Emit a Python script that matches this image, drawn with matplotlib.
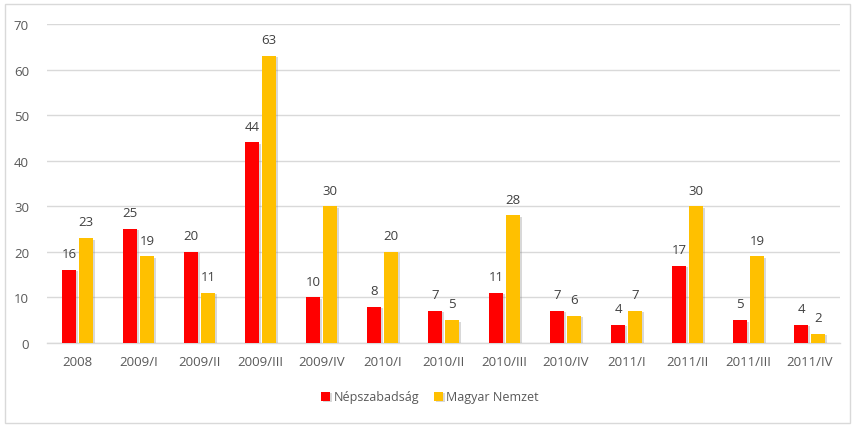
import matplotlib
matplotlib.use("Agg")
import matplotlib.pyplot as plt
import matplotlib.patheffects as pe
from matplotlib.patches import Rectangle
import numpy as np

categories = ["2008", "2009/I", "2009/II", "2009/III", "2009/IV", "2010/I", "2010/II",
              "2010/III", "2010/IV", "2011/I", "2011/II", "2011/III", "2011/IV"]
nepszabadsag = [16, 25, 20, 44, 10, 8, 7, 11, 7, 4, 17, 5, 4]
magyar_nemzet = [23, 19, 11, 63, 30, 20, 5, 28, 6, 7, 30, 19, 2]
yticks = [0, 10, 20, 30, 40, 50, 60, 70]

plt.rcParams['font.family'] = ['Open Sans', 'DejaVu Sans']

fig = plt.figure(figsize=(8.56, 4.31), dpi=100)
fig.patches.append(Rectangle((5/856, 7/431), 845/856, 419/431, transform=fig.transFigure,
                             fill=False, edgecolor='#D9D9D9', linewidth=1))
ax = fig.add_axes([47/856, 1-344/431, 793/856, (344-25)/431])

x = np.arange(len(categories))
w = 0.23
gap = 0.025
shadow = [pe.SimplePatchShadow(offset=(1.5, -1), shadow_rgbFace='#808080', alpha=0.3), pe.Normal()]
b1 = ax.bar(x - w/2 - gap, nepszabadsag, w, color='#FF0000', label='Népszabadság', zorder=3)
b2 = ax.bar(x + w/2 + gap, magyar_nemzet, w, color='#FFC000', label='Magyar Nemzet', zorder=3)
for b in list(b1) + list(b2):
    b.set_path_effects(shadow)

for rects, vals in ((b1, nepszabadsag), (b2, magyar_nemzet)):
    for r, v in zip(rects, vals):
        ax.annotate(str(v), (r.get_x() + r.get_width()/2, v), xytext=(0, 7),
                    textcoords='offset points', ha='center', va='bottom',
                    fontsize=9.5, color='#404040')

ax.set_xlim(-0.5, len(categories) - 0.5)
ax.set_ylim(0, 70)
ax.set_yticks(yticks)
ax.set_xticks(x)
ax.set_xticklabels(categories)
ax.tick_params(axis='both', length=0, labelsize=9.5, labelcolor='#595959')
ax.tick_params(axis='x', pad=9)
ax.tick_params(axis='y', pad=13)
ax.grid(axis='y', color='#D9D9D9', linewidth=1, zorder=0)
for s in ['top', 'right', 'left']:
    ax.spines[s].set_visible(False)
ax.spines['bottom'].set_color('#D9D9D9')
ax.spines['bottom'].set_linewidth(1)

fig.legend(handles=[b1, b2], labels=['Népszabadság', 'Magyar Nemzet'], loc='center',
           bbox_to_anchor=(430/856, 1-398/431), ncol=2, frameon=False, fontsize=9,
           handlelength=0.7, handleheight=0.7, handletextpad=0.3, columnspacing=1.2,
           labelcolor='#595959')

fig.savefig("out.png", dpi=100)
